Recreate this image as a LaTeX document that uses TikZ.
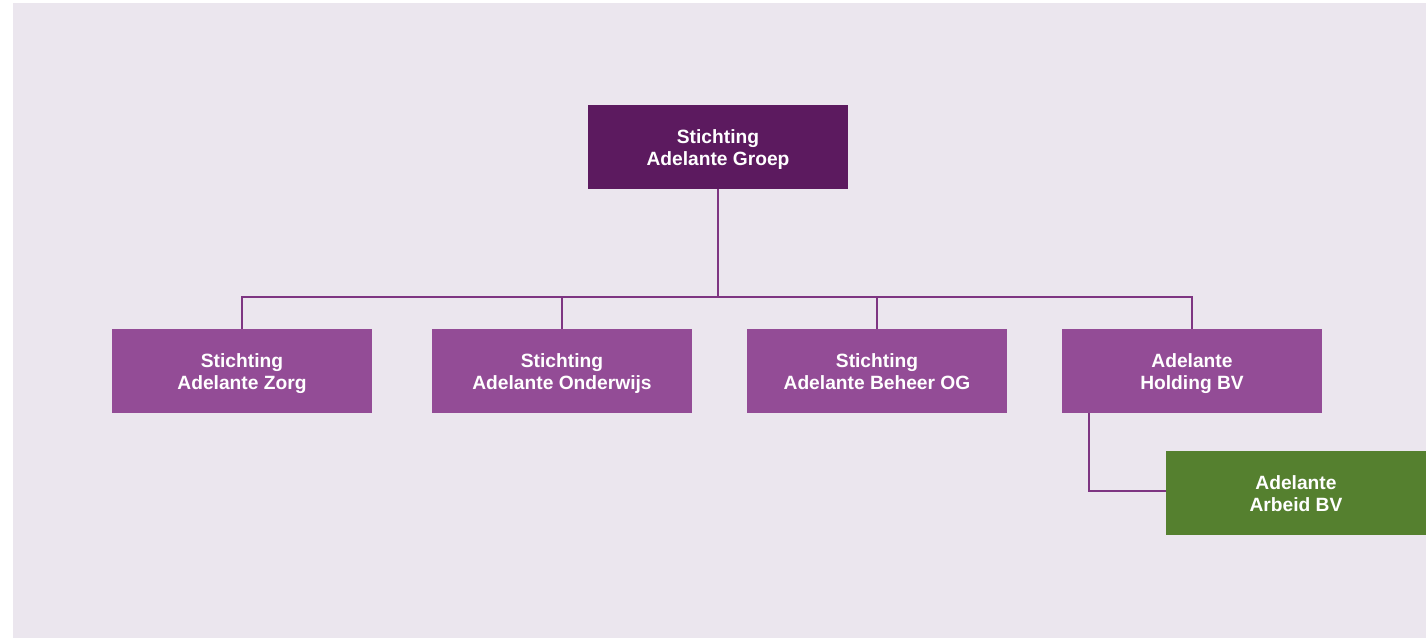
\documentclass[tikz,border=0pt]{standalone}
\usepackage{fontspec}
\setmainfont{Liberation Sans}
\definecolor{bgcol}{HTML}{EBE6EE}
\definecolor{topcol}{HTML}{5C1A5F}
\definecolor{subcol}{HTML}{934C96}
\definecolor{bvcol}{HTML}{55802F}
\definecolor{linecol}{HTML}{7E3582}
\begin{document}
\begin{tikzpicture}[x=0.5pt,y=-0.5pt,
		box/.style={minimum width=130pt,minimum height=42pt,inner sep=0pt,align=center,
			text=white,font=\fontsize{9.6}{11}\selectfont\bfseries,
			text height=20pt,text depth=1.7pt},
		topbox/.style={box,fill=topcol},
		subbox/.style={box,fill=subcol},
		bvbox/.style={box,fill=bvcol},
		link/.style={draw=linecol,line width=0.75pt}]
		\useasboundingbox (0,0) rectangle (1426,638);
		\fill[bgcol] (13,3) rectangle (1426,638);

		\node[topbox] (groep) at (718,147) {Stichting\\Adelante Groep};

		\node[subbox] (zorg) at (242,371) {Stichting\\Adelante Zorg};
		\node[subbox] (onderwijs) at (562,371) {Stichting\\Adelante Onderwijs};
		\node[subbox] (beheer) at (877,371) {Stichting\\Adelante Beheer OG};
		\node[subbox] (holding) at (1192,371) {Adelante\\Holding BV};

		\node[bvbox] (arbeid) at (1296,493) {Adelante\\Arbeid BV};

		\coordinate (bar) at (718,297);
		\coordinate (foot) at (1089,413);

		\draw[link] (groep.south) -- (bar);
		\draw[link] (zorg.north) -- (zorg.north |- bar) -| (holding.north);
		\draw[link] (onderwijs.north) -- (onderwijs.north |- bar);
		\draw[link] (beheer.north) -- (beheer.north |- bar);
		\draw[link] (foot) |- ([yshift=1pt]arbeid.west);
	\end{tikzpicture}
\end{document}
